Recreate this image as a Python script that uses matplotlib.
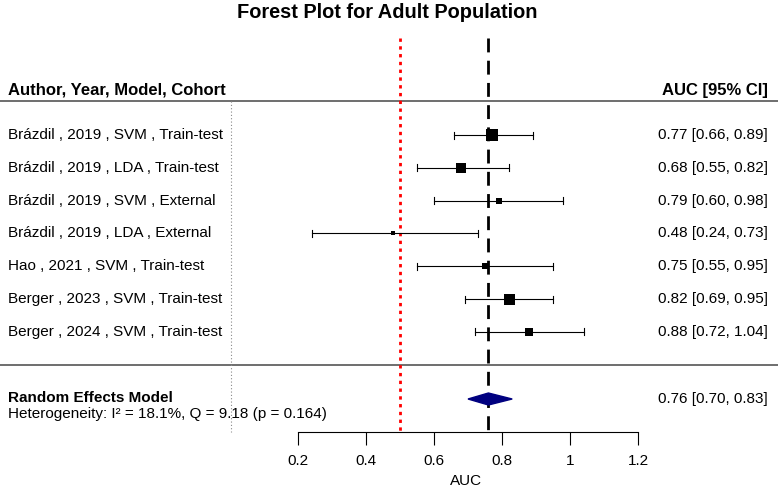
import matplotlib
matplotlib.use("Agg")
import matplotlib.pyplot as plt
from matplotlib.patches import Polygon

plt.rcParams["font.family"] = ["Liberation Sans", "DejaVu Sans"]

# --- data ---
studies = [
    "Brázdil , 2019 , SVM , Train-test",
    "Brázdil , 2019 , LDA , Train-test",
    "Brázdil , 2019 , SVM , External",
    "Brázdil , 2019 , LDA , External",
    "Hao , 2021 , SVM , Train-test",
    "Berger , 2023 , SVM , Train-test",
    "Berger , 2024 , SVM , Train-test",
]
auc = [0.77, 0.68, 0.79, 0.48, 0.75, 0.82, 0.88]
ci_lo = [0.66, 0.55, 0.60, 0.24, 0.55, 0.69, 0.72]
ci_hi = [0.89, 0.82, 0.98, 0.73, 0.95, 0.95, 1.04]
weight = [12, 10, 6, 4, 6, 11, 8]  # marker size (px)

pooled = 0.76
pooled_lo = 0.70
pooled_hi = 0.83
i2 = 18.1
q_stat = 9.18
p_val = 0.164
ref_line = 0.5
xticks = [0.2, 0.4, 0.6, 0.8, 1.0, 1.2]
xtick_labels = ["0.2", "0.4", "0.6", "0.8", "1", "1.2"]

# --- layout (pixel based) ---
W, H = 778, 492
X0_PX, PX_PER_UNIT = 298, 340.0


def xd(px):
    return xticks[0] + (px - X0_PX) / PX_PER_UNIT


fig = plt.figure(figsize=(W / 100, H / 100), dpi=100)
ax = fig.add_axes([0, 0, 1, 1])
ax.set_xlim(xd(0), xd(W))
ax.set_ylim(H, 0)
for s in ["top", "left", "right"]:
    ax.spines[s].set_visible(False)
ax.set_yticks([])

row_y = [135 + i * 32.8 for i in range(len(studies))]
axis_y = 432
pool_y = 399

# title and headers
ax.text(xd(387), 12, "Forest Plot for Adult Population", ha="center", va="center",
        fontsize=14.4, fontweight="bold")
ax.text(xd(8), 90, "Author, Year, Model, Cohort", ha="left", va="center",
        fontsize=12, fontweight="bold")
ax.text(xd(768), 90, "AUC [95% CI]", ha="right", va="center",
        fontsize=12, fontweight="bold")
ax.plot([xd(0), xd(W)], [101, 101], color="#555555", lw=1.2)
ax.plot([xd(0), xd(W)], [365, 365], color="#555555", lw=1.2)
ax.plot([xd(231), xd(231)], [101, axis_y], color="#888888", lw=0.8, ls=(0, (1, 2)))

# reference lines
ax.plot([ref_line, ref_line], [38, axis_y], color="red", lw=2, ls=(0, (1.2, 1.6)))
ax.plot([pooled, pooled], [38, axis_y], color="black", lw=2, ls=(0, (5, 3)))

# studies
for y, name, m, lo, hi, w in zip(row_y, studies, auc, ci_lo, ci_hi, weight):
    ax.text(xd(8), y, name, ha="left", va="center", fontsize=11)
    ax.text(xd(768), y, f"{m:.2f} [{lo:.2f}, {hi:.2f}]", ha="right", va="center", fontsize=11)
    ax.plot([lo, hi], [y, y], color="black", lw=0.8)
    ax.plot([lo, lo], [y - 3.5, y + 3.5], color="black", lw=0.8)
    ax.plot([hi, hi], [y - 3.5, y + 3.5], color="black", lw=0.8)
    ax.plot([m], [y], marker="s", color="black", ms=w * 0.72, mew=0, zorder=4)

# pooled estimate
diamond = Polygon([[pooled_lo, pool_y], [pooled, pool_y - 6], [pooled_hi, pool_y],
                   [pooled, pool_y + 6]], closed=True, facecolor="#000080",
                  edgecolor="#000080", zorder=4)
ax.add_patch(diamond)
ax.text(xd(8), pool_y - 1, "Random Effects Model", ha="left", va="center",
        fontsize=11, fontweight="bold")
ax.text(xd(8), 414, f"Heterogeneity: I² = {i2}%, Q = {q_stat} (p = {p_val})",
        ha="left", va="center", fontsize=11)
ax.text(xd(768), pool_y, f"{pooled:.2f} [{pooled_lo:.2f}, {pooled_hi:.2f}]",
        ha="right", va="center", fontsize=11)

# x axis
ax.spines["bottom"].set_position(("data", axis_y))
ax.spines["bottom"].set_bounds(xticks[0], xticks[-1])
ax.spines["bottom"].set_linewidth(0.8)
ax.set_xticks(xticks)
ax.set_xticklabels(xtick_labels, fontsize=11)
ax.tick_params(axis="x", direction="out", length=9, width=0.8, pad=7)
ax.text(xd(466), 481, "AUC", ha="center", va="center", fontsize=11)

fig.savefig("out.png", dpi=100)
